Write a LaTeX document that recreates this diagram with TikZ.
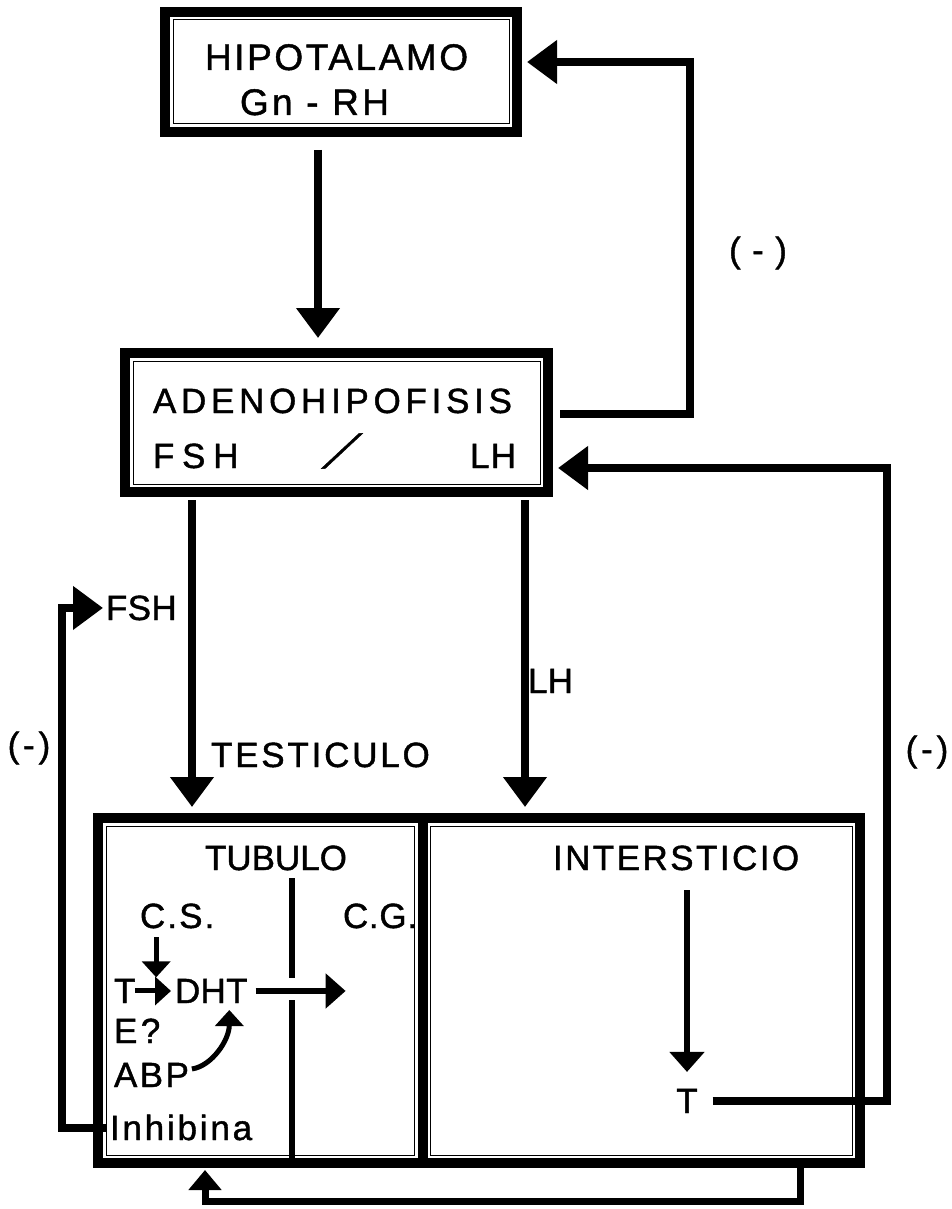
\documentclass[tikz,border=0pt]{standalone}
\usepackage{fontspec}
\setmainfont{Liberation Sans}
\newfontfamily\dfont{Liberation Sans}[FakeBold=1.2]
\usetikzlibrary{arrows.meta,calc}
\begin{document}
\begin{tikzpicture}[x=1pt,y=-1pt,
  frame/.style={draw, line width=10pt, inner sep=0pt, outer sep=0pt, line join=miter},
  thinframe/.style={line width=1pt},
  txt/.style={inner sep=0pt, outer sep=0pt, font=\dfont\fontsize{35}{40}\selectfont\addfontfeature{LetterSpace=#1}},
  txt/.default=0,
  bigtxt/.style={inner sep=0pt, outer sep=0pt, font=\dfont\fontsize{37}{42}\selectfont\addfontfeature{LetterSpace=#1}},
  bigarr/.style={line width=8pt, line join=miter, -{Triangle[length=30pt,width=42pt]}},
  fbarr/.style={line width=7pt, line join=miter, -{Triangle[length=20pt,width=32pt]}},
  medarr/.style={line width=6pt, -{Triangle[length=20pt,width=34pt]}},
  smallarr/.style={line width=5pt, -{Triangle[length=16pt,width=28pt]}},
  wall/.style={line width=6pt}
]
\useasboundingbox (0,0) rectangle (952,1209);
\fill[white] (0,0) rectangle (952,1209);

% boxes
\node[frame, minimum width=352pt, minimum height=120pt] (hip) at (341,72) {};
\node[frame, minimum width=423pt, minimum height=139pt] (ade) at (336.5,422.5) {};
\node[frame, minimum width=324.5pt, minimum height=345pt] (tub) at (260.25,990.5) {};
\node[frame, minimum width=437.5pt, minimum height=345pt] (int) at (641.25,990.5) {};
\foreach \n in {hip,ade,tub,int}
  \draw[thinframe] ([shift={(8pt,-8pt)}]\n.north west) rectangle ([shift={(-8pt,8pt)}]\n.south east);

% texts
\node[bigtxt=7, anchor=base west] (hipa) at (205,70) {HIPOTALAMO};
\node[bigtxt=9, anchor=base west] (hipb) at (240,115) {Gn - RH};
\node[txt=13.5, anchor=base west] (adea) at (153,413) {ADENOHIPOFISIS};
\node[txt=22, anchor=base west] (fshb) at (153,468) {FSH};
\node[inner sep=0pt, font=\dfont\fontsize{48}{52}\selectfont, xslant=0.8] (sl) at (342,451) {/};
\node[txt=4, anchor=base west] (lhb) at (470,468) {LH};
\node[txt=1, anchor=base west] (fshl) at (106,620) {FSH};
\node[txt=1, anchor=base west] (lhl) at (528,693) {LH};
\node[txt=8, anchor=base west] (test) at (211,767) {TESTICULO};
\node[txt=5] (neg1) at (758,253) {( - )};
\node[txt=11] (neg2) at (29,748) {(-)};
\node[txt=11] (neg3) at (927,752) {(-)};
\node[txt=0, anchor=base west] (tubl) at (205,870) {TUBULO};
\node[txt=7, anchor=base west] (intl) at (553,870) {INTERSTICIO};
\node[txt=6, anchor=base west] (cs) at (140,928) {C.S.};
\node[txt=2, anchor=base west] (cg) at (343,928) {C.G.};
\node[txt=0, anchor=base west] (t1) at (114,1003) {T};
\node[txt=1, anchor=base west] (dht) at (175,1003) {DHT};
\node[txt=10, anchor=base west] (e) at (114,1043) {E?};
\node[txt=7, anchor=base west] (abp) at (114,1087) {ABP};
\node[txt=8, anchor=base west] (inh) at (110,1140) {Inhibina};
\node[txt=0, anchor=base] (tint) at (687,1113) {T};

% helper coordinates
\coordinate (tubTop) at ([yshift=11pt]tub.north);
\coordinate (intTop) at ([yshift=11pt]int.north);
\coordinate (fA) at ([xshift=-144.5pt,yshift=-8pt]ade.south);
\coordinate (lA) at ([xshift=188.5pt,yshift=-8pt]ade.south);
\coordinate (tcol) at ([xshift=142pt]ade.east);
\coordinate (rcol) at ([xshift=27pt]int.east);
\coordinate (lcol) at ([xshift=-36pt]tub.west);
\coordinate (ia) at (intl.south -| tint.north);
\coordinate (hipIn) at ([xshift=10pt,yshift=10pt]hip.east);
\coordinate (adeIn) at ([xshift=10pt,yshift=-45.5pt]ade.east);

% connectors
\draw[bigarr] ([xshift=-23pt,yshift=-18pt]hip.south) -- ([xshift=-18.5pt,yshift=15pt]ade.north);
\draw[bigarr] ([xshift=12pt,yshift=8.5pt]ade.east) -| (tcol |- hipIn) -- (hipIn);
\draw[bigarr] ([xshift=15pt]tint.east) -- (rcol |- tint.east) -- (rcol |- adeIn) -- (adeIn);
\draw[bigarr] (fA) -- (fA |- tubTop);
\draw[bigarr] (lA) -- (lA |- intTop);
\draw[bigarr] ([xshift=-4pt]inh.west) -- (lcol |- inh.west) |- ([xshift=-3pt]fshl.west);
\draw[fbarr] ([xshift=158.75pt]int.south) -- ++(0,38) -| ([xshift=-55.25pt,yshift=-7pt]tub.south);

% tubule wall
\draw[wall] ([xshift=31.75pt,yshift=-60pt]tub.north) -- ++(0,100);
\draw[wall] ([xshift=31.75pt,yshift=5pt]tub.south) -- ++(0,-158);

% inner arrows
\draw[smallarr] ([xshift=-21pt,yshift=-9pt]cs.south) -- ++(0,40);
\draw[smallarr] (t1.east) -- ([xshift=-4pt]dht.west);
\draw[medarr] ([xshift=8pt]dht.east) -- ++(90,0);
\draw[smallarr] ([xshift=3pt,yshift=6pt]abp.east) .. controls +(20,-3) and +(0,30) .. ([xshift=18pt,yshift=-7pt]dht.south);
\draw[medarr] ([yshift=-20pt]ia) -- ([yshift=17pt]tint.north);
\end{tikzpicture}
\end{document}
